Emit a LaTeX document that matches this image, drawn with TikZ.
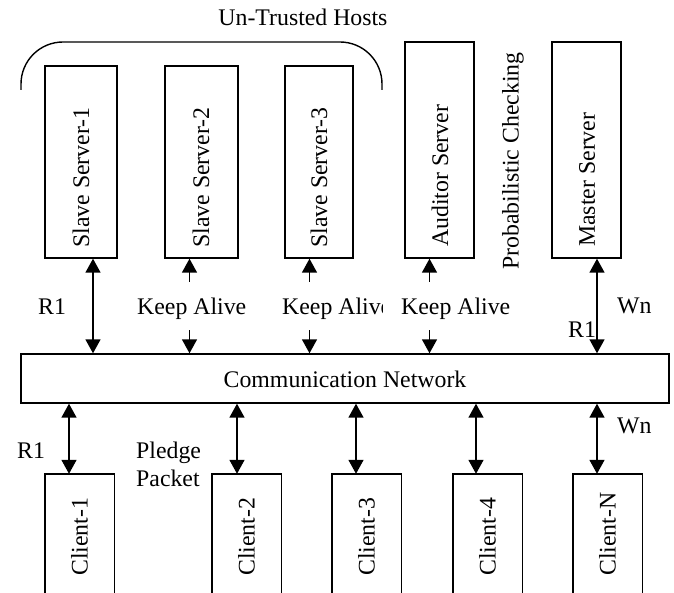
\documentclass[tikz,border=0pt]{standalone}
\usepackage{fontspec}
\setmainfont{Liberation Serif}
\usetikzlibrary{arrows.meta}
\begin{document}
\begin{tikzpicture}[x=1pt,y=-1pt,
  >={Triangle[length=14pt,width=15pt]},
  box/.style={draw,line width=1.4pt,inner sep=0pt},
  arr/.style={line width=1.5pt},
  lbl/.style={inner sep=0pt,font=\fontsize{23.8}{28}\selectfont},
  vlbl/.style={lbl,rotate=90,anchor=west}]
\useasboundingbox (0,0) rectangle (674,593);
% title and bracket
\node[lbl,anchor=base] (title) at (303,26) {Un-Trusted Hosts};
\draw[line width=1.4pt,rounded corners=42pt] (21,90) -- (21,42) -- (382,42) -- (382,90);
% server boxes
\node[box,minimum width=72pt,minimum height=192pt] (s1) at (81,162) {};
\node[box,minimum width=73pt,minimum height=192pt] (s2) at (201.5,162) {};
\node[box,minimum width=68pt,minimum height=192pt] (s3) at (319,162) {};
\node[box,minimum width=69pt,minimum height=216pt] (aud) at (439.5,150) {};
\node[box,minimum width=69pt,minimum height=216pt] (mas) at (586.5,150) {};
\node[vlbl] (t1) at (81,248) {Slave Server-1};
\node[vlbl] (t2) at (201,248) {Slave Server-2};
\node[vlbl] (t3) at (319,248) {Slave Server-3};
\node[vlbl] (ta) at (440,247) {Auditor Server};
\node[vlbl] (tm) at (587,247) {Master Server};
\node[vlbl] (pc) at (513,270) {Probabilistic Checking};
% network
\node[box,minimum width=648pt,minimum height=49pt] (net) at (345,378.5) {};
\node[lbl,anchor=base] (nt) at (345,387) {Communication Network};
% client boxes (open at the bottom)
\foreach \n/\cx/\w in {c1/79.5/69,c2/246.5/69,c3/366.5/69,c4/487.5/69,cn/607.5/69}{
  \node[inner sep=0pt,minimum width=\w pt,minimum height=120pt] (\n) at (\cx,534) {};
  \draw[line width=1.4pt] (\n.south west) -- (\n.north west) -- (\n.north east) -- (\n.south east);
}
\node[vlbl] (tc1) at (79.5,576) {Client-1};
\node[vlbl] (tc2) at (246.5,576) {Client-2};
\node[vlbl] (tc3) at (366.5,576) {Client-3};
\node[vlbl] (tc4) at (487.5,576) {Client-4};
\node[vlbl] (tcn) at (607.5,576) {Client-N};
% upper connectors
\draw[arr,<->] ([xshift=12pt]s1.south) -- ([xshift=12pt]s1.south |- net.north);
\draw[arr,<->] ([xshift=10.5pt]mas.south) -- ([xshift=10.5pt]mas.south |- net.north);
\foreach \n/\ax in {s2/189.5,s3/309.5,aud/429.5}{
  \coordinate (\n u) at (\ax,282);
  \coordinate (\n d) at (\ax,330);
  \draw[arr,->] (\n u) -- (\n u |- \n.south);
  \draw[arr,->] (\n d) -- (\n d |- net.north);
}
% lower connectors
\foreach \n/\ax in {c1/69,c2/237,c3/356,c4/476,cn/597}{
  \coordinate (\n x) at (\ax,0);
  \draw[arr,<->] (\n x |- net.south) -- (\n x |- \n.north);
}
% labels
\node[lbl,anchor=base west] (r1a) at (38,314) {R1};
\node[lbl,anchor=base west] (ka1) at (137,314) {Keep Alive};
\begin{scope}
  \clip (270,280) rectangle (382,330);
  \node[lbl,anchor=base west] (ka2) at (282,314) {Keep Alive};
\end{scope}
\node[lbl,anchor=base west] (ka3) at (401,314) {Keep Alive};
\node[lbl,anchor=base west] (wna) at (617,313) {Wn};
\node[lbl,anchor=base west] (r1b) at (568,337) {R1};
\node[lbl,anchor=base west] (wnb) at (617,433) {Wn};
\node[lbl,anchor=base west] (r1c) at (17,458) {R1};
\node[lbl,anchor=base west] (pl) at (136,458) {Pledge};
\node[lbl,anchor=base west] (pk) at (136,486) {Packet};
\end{tikzpicture}
\end{document}
